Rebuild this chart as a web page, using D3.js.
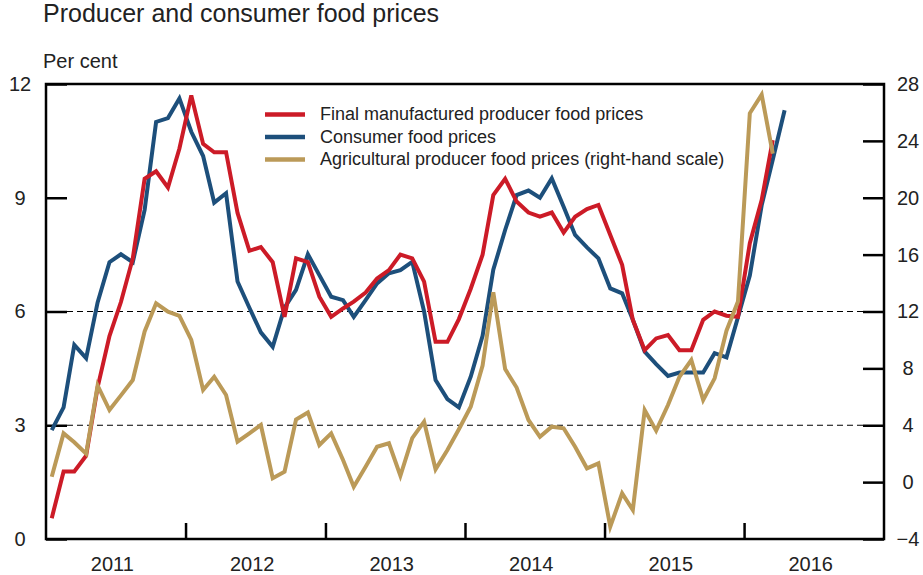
<!DOCTYPE html>
<html>
<head>
<meta charset="utf-8">
<script src="https://cdn.jsdelivr.net/npm/d3@7"></script>
<style>
  body { margin: 0; background: #fff; }
  svg text { font-family: "Liberation Sans", Arial, sans-serif; fill: #222; }
</style>
</head>
<body>
<svg id="chart" width="923" height="575"></svg>
<script>
// monthly series, first point Jan 2011
var firstMonth = new Date(2011, 0, 1);

// final manufactured producer food prices, per cent (Jan 2011 - Mar 2016)
var finalProducer = [0.55, 1.78, 1.78, 2.2, 4.0, 5.35, 6.25, 7.4, 9.5, 9.7, 9.27, 10.3,
    11.7, 10.42, 10.2, 10.2, 8.6, 7.6, 7.7, 7.3, 5.86, 7.4, 7.3, 6.39,
    5.86, 6.08, 6.26, 6.5, 6.87, 7.09, 7.5, 7.4, 6.79, 5.2, 5.2, 5.8,
    6.6, 7.5, 9.07, 9.5, 8.9, 8.61, 8.5, 8.61, 8.08, 8.5, 8.7, 8.81,
    8.02, 7.23, 5.78, 4.98, 5.29, 5.38, 4.98, 4.98, 5.78, 6.0, 5.89, 5.86,
    7.8, 8.94, 10.52];

// consumer food prices, per cent (Jan 2011 - Apr 2016)
var consumerFood = [2.87, 3.47, 5.12, 4.77, 6.24, 7.3, 7.51, 7.3, 8.68, 11.0, 11.1, 11.62,
    10.74, 10.1, 8.87, 9.12, 6.79, 6.1, 5.45, 5.07, 6.1, 6.57, 7.51, 6.96,
    6.39, 6.3, 5.86, 6.3, 6.74, 7.01, 7.09, 7.31, 6.0, 4.19, 3.69, 3.47,
    4.28, 5.36, 7.1, 8.15, 9.07, 9.19, 9.0, 9.51, 8.76, 8.02, 7.69, 7.4,
    6.61, 6.48, 5.78, 4.94, 4.61, 4.3, 4.39, 4.39, 4.39, 4.9, 4.79, 5.85,
    6.95, 8.8, 10.0, 11.31];

// agricultural producer food prices, per cent, right-hand scale (Jan 2011 - Mar 2016)
var agricultural = [0.38, 3.43, 2.8, 2.0, 6.8, 5.07, 6.1, 7.18, 10.6, 12.58, 11.99, 11.7,
    10.0, 6.48, 7.41, 6.13, 2.84, 3.43, 4.02, 0.27, 0.73, 4.4, 4.9, 2.61,
    3.43, 1.56, -0.32, 1.08, 2.49, 2.73, 0.45, 3.1, 4.25, 0.9, 2.26, 3.72,
    5.3, 8.2, 13.35, 7.95, 6.65, 4.37, 3.19, 3.9, 3.79, 2.49, 0.97, 1.32,
    -3.13, -0.79, -1.96, 5.07, 3.62, 5.42, 7.41, 8.59, 5.78, 7.3, 10.65, 12.7,
    25.94, 27.25, 23.1];

var leftTicks = [0, 3, 6, 9, 12];
var rightTicks = [-4, 0, 4, 8, 12, 16, 20, 24, 28];
var gridValues = [3, 6];
var yearLabels = [2011, 2012, 2013, 2014, 2015, 2016];

var legendItems = [
    {name: "Final manufactured producer food prices", color: "#cc1b27"},
    {name: "Consumer food prices", color: "#1d4f7b"},
    {name: "Agricultural producer food prices (right-hand scale)", color: "#bb9a58"}
];

var svg = d3.select("#chart");
var plotLeft = 46, plotRight = 884, plotTop = 84, plotBottom = 539;

// x is a monthly category axis from Jan 2011 to Dec 2016
var x = d3.scaleTime()
    .domain([new Date(2011, 0, 1), new Date(2017, 0, 1)])
    .range([plotLeft, plotRight]);

var yLeft = d3.scaleLinear().domain([0, 12]).range([plotBottom, plotTop]);
var yRight = d3.scaleLinear().domain([-4, 28]).range([plotBottom, plotTop]);

// turn a series into dated points (middle of each month)
var toPoints = function(values) {
    return values.map(function(v, i) {
        var m = d3.timeMonth.offset(firstMonth, i);
        return {date: new Date(m.getFullYear(), m.getMonth(), 16), value: v};
    });
};

// title and unit
svg.append("text").attr("x", 43).attr("y", 22)
    .style("font-size", "25px").text("Producer and consumer food prices");
svg.append("text").attr("x", 43).attr("y", 68)
    .style("font-size", "20px").text("Per cent");

// dashed grid lines
svg.selectAll(".grid")
    .data(gridValues)
    .enter().append("line")
    .attr("x1", plotLeft + 21).attr("x2", plotRight - 21)
    .attr("y1", function(d) { return yLeft(d); })
    .attr("y2", function(d) { return yLeft(d); })
    .attr("stroke", "#000")
    .attr("stroke-width", 1.2)
    .attr("stroke-dasharray", "6,4");

// left axis, ticks pointing inwards
var gLeft = svg.append("g")
    .attr("transform", "translate(" + plotLeft + ",0)")
    .call(d3.axisLeft(yLeft).tickValues(leftTicks).tickSize(-21).tickPadding(0));
gLeft.select(".domain").remove();
gLeft.selectAll("line").attr("stroke", "#000").attr("stroke-width", 2.5);
gLeft.selectAll("text")
    .attr("x", -26).attr("text-anchor", "middle")
    .style("font-size", "20px").attr("fill", "#222");

// right axis
var gRight = svg.append("g")
    .attr("transform", "translate(" + plotRight + ",0)")
    .call(d3.axisRight(yRight).tickValues(rightTicks).tickSize(-21).tickPadding(0));
gRight.select(".domain").remove();
gRight.selectAll("line").attr("stroke", "#000").attr("stroke-width", 2.5);
gRight.selectAll("text")
    .attr("x", 24).attr("text-anchor", "middle")
    .style("font-size", "20px").attr("fill", "#222");

// bottom axis: year boundary ticks
var gBottom = svg.append("g")
    .attr("transform", "translate(0," + plotBottom + ")")
    .call(d3.axisBottom(x)
        .tickValues(d3.timeYear.range(new Date(2012, 0, 1), new Date(2017, 0, 1)))
        .tickSize(-16).tickFormat(""));
gBottom.select(".domain").remove();
gBottom.selectAll("line").attr("stroke", "#000").attr("stroke-width", 2.5);

// year labels in the middle of each year
var gYears = svg.append("g")
    .attr("transform", "translate(0," + plotBottom + ")")
    .call(d3.axisBottom(x)
        .tickValues(yearLabels.map(function(y) { return new Date(y, 5, 22); }))
        .tickSize(0).tickFormat(d3.timeFormat("%Y")));
gYears.select(".domain").remove();
gYears.selectAll("text")
    .attr("y", 32).attr("dy", 0)
    .style("font-size", "20px").attr("fill", "#222");

// frame
svg.append("rect")
    .attr("x", plotLeft).attr("y", plotTop)
    .attr("width", plotRight - plotLeft).attr("height", plotBottom - plotTop)
    .attr("fill", "none").attr("stroke", "#000").attr("stroke-width", 2.5);

var lineLeft = d3.line()
    .x(function(d) { return x(d.date); })
    .y(function(d) { return yLeft(d.value); });
var lineRight = d3.line()
    .x(function(d) { return x(d.date); })
    .y(function(d) { return yRight(d.value); });

var drawSeries = function(values, line, color) {
    svg.append("path")
        .datum(toPoints(values))
        .attr("fill", "none")
        .attr("stroke", color)
        .attr("stroke-width", 4)
        .attr("stroke-linejoin", "miter")
        .attr("d", line);
};

drawSeries(consumerFood, lineLeft, legendItems[1].color);
drawSeries(finalProducer, lineLeft, legendItems[0].color);
drawSeries(agricultural, lineRight, legendItems[2].color);

// legend
var legend = svg.append("g").attr("transform", "translate(265,120)");
var rows = legend.selectAll("g")
    .data(legendItems)
    .enter().append("g")
    .attr("transform", function(d, i) { return "translate(0," + (i * 22.5) + ")"; });
rows.append("line")
    .attr("x1", 0).attr("x2", 40)
    .attr("y1", -5.5).attr("y2", -5.5)
    .attr("stroke", function(d) { return d.color; })
    .attr("stroke-width", 4.5);
rows.append("text")
    .attr("x", 55).attr("y", 0)
    .style("font-size", "18px")
    .text(function(d) { return d.name; });
</script>
</body>
</html>
